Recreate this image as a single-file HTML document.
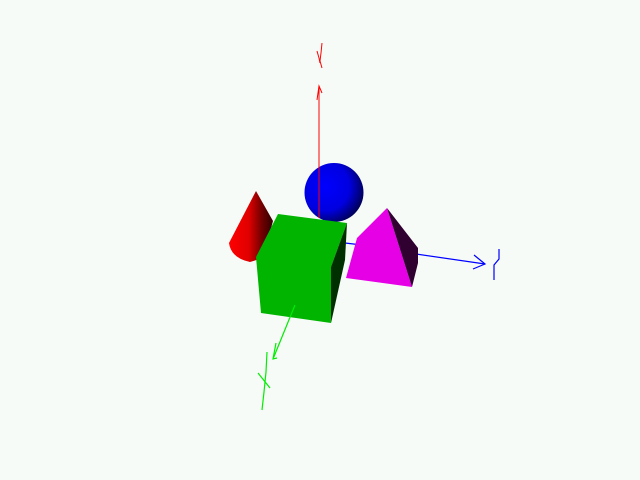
<!DOCTYPE html>
<html><head><meta charset="utf-8"><style>
html,body{margin:0;padding:0;background:#f6fbf8;}
svg{display:block}
</style></head><body>
<svg width="640" height="480" viewBox="0 0 640 480">
<defs>
<radialGradient id="sph" cx="0.35" cy="0.4" r="0.75">
<stop offset="0" stop-color="#0000ff"/><stop offset="0.55" stop-color="#0000e0"/><stop offset="1" stop-color="#000030"/>
</radialGradient>
<linearGradient id="cone" x1="0" y1="0" x2="1" y2="0">
<stop offset="0" stop-color="#ff0000"/><stop offset="0.45" stop-color="#e00000"/><stop offset="0.75" stop-color="#700000"/><stop offset="1" stop-color="#300000"/>
</linearGradient>
</defs>
<rect width="640" height="480" fill="#f6fbf8"/>
<!-- red axis -->
<g stroke="#ff0000" stroke-width="1" fill="none">
<line x1="319" y1="86" x2="319" y2="218"/>
<polyline points="317,100 319,86 322,93"/>
<polyline points="322,43 321,53 320,61 322,68"/>
<polyline points="317,51 319,58 320,63"/>
</g>
<!-- cone -->
<path d="M256,191 L229,243 Q231,258 250,262 L263,258 L273,221 Z" fill="url(#cone)"/>
<!-- sphere -->
<circle cx="334" cy="192.5" r="29.5" fill="url(#sph)"/>
<line x1="319" y1="160" x2="319" y2="218" stroke="#ff0000" stroke-width="1"/>
<!-- blue axis -->
<g stroke="#0000ff" stroke-width="1.2" fill="none">
<line x1="345" y1="243" x2="362" y2="245"/>
<line x1="409" y1="253" x2="485" y2="264"/>
<polyline points="474,255 485,264 473,269"/>
<polyline points="499,249 499,259 494,265 494,280"/>
</g>
<!-- pyramid -->
<g>
<polygon points="387,208 412,287 346,278 357,238" fill="#e600e6"/>
<polygon points="387,208 418,248 418,263 412,287" fill="#300030"/>
</g>
<!-- cube -->
<g>
<polygon points="278,214 347,223 331,267 331,323 261,313 256,257" fill="#00b400"/>
<polygon points="347,223 345,260 331,323 331,267" fill="#003000"/>
</g>
<!-- green axis -->
<g stroke="#00ee00" stroke-width="1.2" fill="none">
<line x1="295" y1="305" x2="273" y2="359"/>
<polyline points="276,343 273,359 277,358"/>
<polyline points="267,352 266,372 264,392 262,410"/>
<line x1="258" y1="373" x2="270" y2="388"/>
</g>
</svg>
</body></html>
